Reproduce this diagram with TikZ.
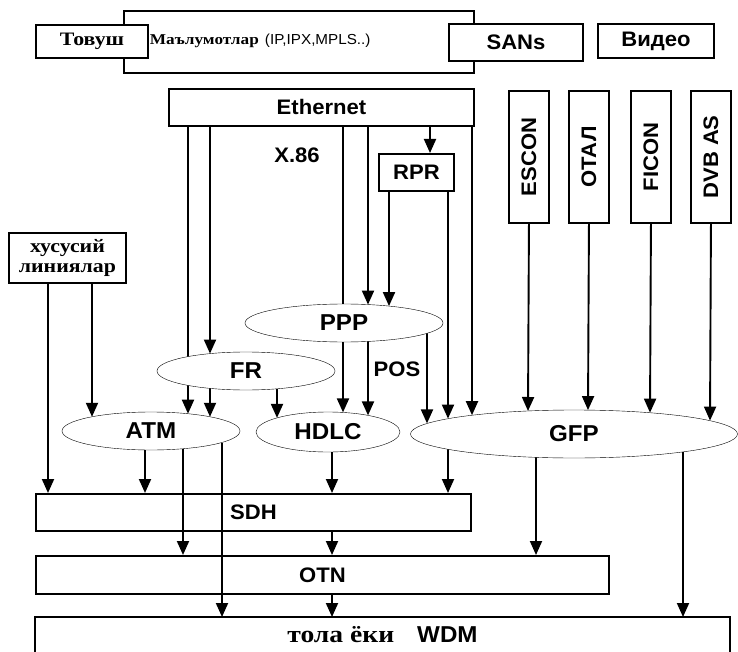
\documentclass[tikz,border=0pt]{standalone}
\usepackage{fontspec}
\usetikzlibrary{arrows.meta,shapes.geometric}
\newfontfamily\lsans{Liberation Sans}[FakeStretch=1.05]
\newfontfamily\lserif{Liberation Serif}[FakeStretch=1.15]
\pgfdeclarelayer{fg}
\pgfsetlayers{main,fg}
\begin{document}
\begin{tikzpicture}[x=1pt,y=-1pt,line width=1.9pt,
  every node/.style={font=\lsans\bfseries\fontsize{21}{24}\selectfont, inner sep=0pt},
  box/.style={draw, fill=white, rectangle, anchor=north west},
  oval/.style={draw, fill=white, ellipse, font=\lsans\bfseries\fontsize{23}{26}\selectfont},
  arr/.style={-{Triangle[width=12pt,length=14pt]}},
  ser/.style={font=\lserif\bfseries\fontsize{19}{20}\selectfont}]
\useasboundingbox (0,0) rectangle (738,652);

% top row
\node[box, minimum width=350pt, minimum height=62pt] (data) at (123,10) {};
\node[box, minimum width=112pt, minimum height=33pt, ser] (tovush) at (35,24) {Товуш};
\node[anchor=west] (datatxt) at (149,41) {{\lserif\bfseries\fontsize{15}{19}\selectfont Маълумотлар}\ {\lsans\mdseries\fontsize{14.5}{16}\selectfont(IP,IPX,MPLS..)}};
\node[box, minimum width=134pt, minimum height=37pt] (sans) at (448,23) {SANs};
\node[box, minimum width=116pt, minimum height=34pt] (video) at (597,23) {Видео};

% second level
\node[box, minimum width=305pt, minimum height=37pt] (eth) at (168,88) {Ethernet};
\node[box, minimum width=75pt, minimum height=37pt] (rpr) at (378,153) {RPR};
\node[box, minimum width=40pt, minimum height=132pt] (escon) at (508,90) {};
\node[box, minimum width=40pt, minimum height=132pt] (otal) at (568,90) {};
\node[box, minimum width=40pt, minimum height=132pt] (ficon) at (630,90) {};
\node[box, minimum width=40pt, minimum height=132pt] (dvb) at (690,90) {};
\node[rotate=90] (escont) at (escon.center) {ESCON};
\node[rotate=90] (otalt) at (otal.center) {ОТАЛ};
\node[rotate=90] (ficont) at (ficon.center) {FICON};
\node[rotate=90] (dvbt) at (dvb.center) {DVB AS};
\node[box, minimum width=117pt, minimum height=50pt, ser, align=center] (hus) at (8,232) {хусусий\\линиялар};

\node (x86) at (297,155) {X.86};
\node (pos) at (397,369) {POS};

% lower boxes
\node[box, minimum width=435pt, minimum height=37pt] (sdh) at (35,493) {SDH};
\node[box, minimum width=573pt, minimum height=38pt] (otn) at (35,555) {OTN};
\node[rectangle, anchor=north west, minimum width=693pt, minimum height=33pt, font=\lsans\bfseries\fontsize{23}{25}\selectfont] (wdm) at (35,617) {{\lserif\bfseries\fontsize{24}{25}\selectfont тола ёки}\quad WDM};
\draw (wdm.south west) -- (wdm.north west) -- (wdm.north east) -- (wdm.south east);

% connectors
\draw[arr] (188,0 |- eth.south) -- (188,413.7);
\draw[arr] (210,0 |- eth.south) -- (210,353.6);
\draw[arr] (343,0 |- eth.south) -- (343,412.4);
\draw[arr] (368,0 |- eth.south) -- (368,304.6);
\draw[arr] (430,0 |- eth.south) -- (430,0 |- rpr.north);
\draw[arr] (472,0 |- eth.south) -- (472,415.2);
\draw[arr] (389,0 |- rpr.south) -- (389,306.1);
\draw[arr] (448,0 |- rpr.south) -- (448,418.6);
\draw[arr] (368,341.4) -- (368,415.4);
\draw[arr] (427,333.4) -- (427,423.4);
\draw[arr] (210,388.4) -- (210,416.8);
\draw[arr] (277,388.8) -- (277,417.9);
\draw[arr] (92,0 |- hus.south) -- (92,416.8);
\draw[arr] (48,0 |- hus.south) -- (48,0 |- sdh.north);
\draw[arr] (escon.south) -- (528,411.0);
\draw[arr] (otal.south) -- (588,410.1);
\draw[arr] (ficon.south) -- (650,412.7);
\draw[arr] (dvb.south) -- (710,420.6);
\draw[arr] (145,450) -- (145,0 |- sdh.north);
\draw[arr] (183,448.7) -- (183,0 |- otn.north);
\draw[arr] (222,442.5) -- (222,0 |- wdm.north);
\draw[arr] (332,452) -- (332,0 |- sdh.north);
\draw[arr] (332,0 |- sdh.south) -- (332,0 |- otn.north);
\draw[arr] (332,0 |- otn.south) -- (332,0 |- wdm.north);
\draw[arr] (448,449.4) -- (448,0 |- sdh.north);
\draw[arr] (536,457.3) -- (536,0 |- otn.north);
\draw[arr] (683,451.9) -- (683,0 |- wdm.north);

% ellipses
\begin{pgfonlayer}{fg}
\node[oval, minimum width=198pt, minimum height=38pt] (ppp) at (344,323) {PPP};
\node[oval, minimum width=178pt, minimum height=38pt] (fr) at (246,371) {FR};
\node[oval, minimum width=178pt, minimum height=38pt] (atm) at (151,431) {ATM};
\node[oval, minimum width=144pt, minimum height=40pt] (hdlc) at (328,432) {HDLC};
\node[oval, minimum width=327pt, minimum height=48pt] (gfp) at (574,434) {GFP};
\end{pgfonlayer}
\end{tikzpicture}
\end{document}
